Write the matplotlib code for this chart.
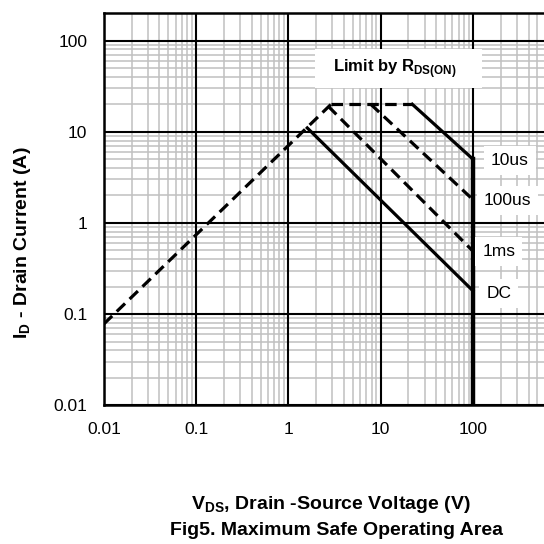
import matplotlib.pyplot as plt
import numpy as np
from matplotlib.ticker import LogLocator, FixedLocator, NullFormatter
from matplotlib.patches import Rectangle

plt.rcParams['font.family'] = ['Liberation Sans', 'DejaVu Sans']
plt.rcParams['mathtext.fontset'] = 'custom'
plt.rcParams['mathtext.rm'] = 'Liberation Sans'
plt.rcParams['mathtext.bf'] = 'Liberation Sans:bold'

# R_DS(on) limit line and the plateau
rds_v = [0.01, 2.9]
rds_i = [0.078, 20.0]
flat_v = [2.9, 22.0]
flat_i = [20.0, 20.0]

# pulse curves
us10_v = [22.0, 100.0]
us10_i = [20.0, 5.0]
us100_v = [7.8, 100.0]
us100_i = [20.0, 1.8]
ms1_v = [2.7, 100.0]
ms1_i = [19.0, 0.49]
dc_v = [1.6, 100.0]
dc_i = [11.0, 0.18]
vmax_v = [100.0, 100.0]
vmax_i = [0.01, 5.0]

curve_labels = ['10us', '100us', '1ms', 'DC']
label_v = [250, 238, 190, 190]
label_i = [4.8, 1.76, 0.49, 0.17]

x_ticks = [0.01, 0.1, 1, 10, 100]
x_ticklabels = ['0.01', '0.1', '1', '10', '100']
y_ticks = [0.01, 0.1, 1, 10, 100]
y_ticklabels = ['0.01', '0.1', '1', '10', '100']

fig = plt.figure(figsize=(5.44, 5.44), dpi=100)
ax = fig.add_axes([0.191, 0.255, 0.848, 0.721])
ax.set_xscale('log')
ax.set_yscale('log')
ax.set_xlim(0.01, 1000)
ax.set_ylim(0.01, 200)

ax.xaxis.set_major_locator(FixedLocator(x_ticks))
ax.yaxis.set_major_locator(FixedLocator(y_ticks))
ax.set_xticklabels(x_ticklabels)
ax.set_yticklabels(y_ticklabels)
ax.xaxis.set_minor_locator(LogLocator(base=10, subs=np.arange(2, 10)))
ax.yaxis.set_minor_locator(LogLocator(base=10, subs=np.arange(2, 10)))
ax.xaxis.set_minor_formatter(NullFormatter())
ax.yaxis.set_minor_formatter(NullFormatter())
ax.tick_params(which='both', length=0, labelsize=12.5, pad=12)

# gray minor grid, black decade lines drawn on top of it
ax.grid(which='minor', color='#c0c0c0', lw=1.1)
ax.set_axisbelow(True)
for xv in x_ticks + [1000]:
    ax.axvline(xv, color='black', lw=1.5, zorder=1)
for yv in y_ticks:
    ax.axhline(yv, color='black', lw=1.5, zorder=1)
for s in ax.spines.values():
    s.set_linewidth(1.8)

dash = (0, (3.6, 2.0))
lw = 2.3
ax.plot(rds_v, rds_i, color='black', lw=lw, ls=dash)
ax.plot(flat_v, flat_i, color='black', lw=lw, ls=dash)
ax.plot(us10_v, us10_i, color='black', lw=lw)
ax.plot(us100_v, us100_i, color='black', lw=lw, ls=dash)
ax.plot(ms1_v, ms1_i, color='black', lw=lw, ls=dash)
ax.plot(dc_v, dc_i, color='black', lw=lw)
ax.plot(vmax_v, vmax_i, color='black', lw=3.2)

for lab, xv, yv in zip(curve_labels, label_v, label_i):
    ax.text(xv, yv, lab, ha='center', va='center', fontsize=12.5,
            bbox=dict(facecolor='white', edgecolor='none', pad=5))

# white box behind the R_DS(on) note
ax.add_patch(Rectangle((1.93, 30.5), 124 - 1.93, 79.7 - 30.5,
                       facecolor='white', edgecolor='none', zorder=1.5))
ax.text(14.2, 49, r'Limit by R$_{\mathbf{DS(ON)}}$', ha='center', va='center',
        fontsize=12, fontweight='bold', zorder=3)

fig.text(0.041, 0.553, r'I$_{\mathbf{D}}$ - Drain Current (A)', rotation=90,
         ha='center', va='center', fontsize=14, fontweight='bold')
fig.text(0.608, 0.072, r'V$_{\mathbf{DS}}$, Drain -Source Voltage (V)',
         ha='center', va='center', fontsize=14, fontweight='bold')
fig.text(0.619, 0.024, 'Fig5. Maximum Safe Operating Area',
         ha='center', va='center', fontsize=14, fontweight='bold')

fig.savefig('out.png', dpi=100)
